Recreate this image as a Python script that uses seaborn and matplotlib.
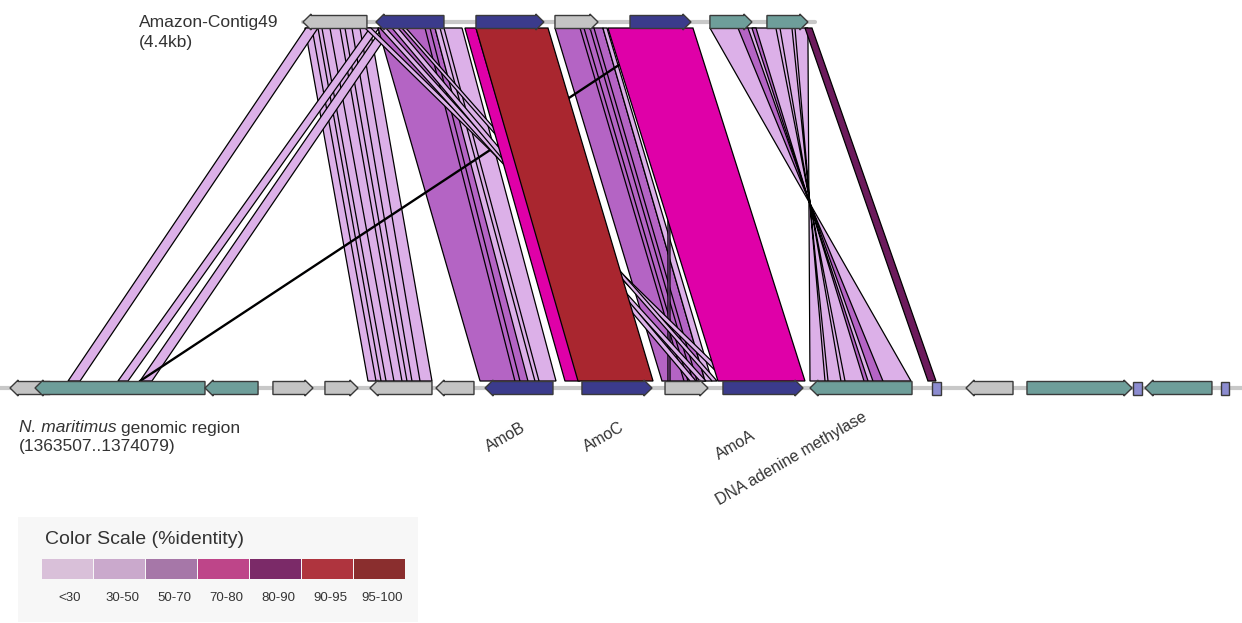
import matplotlib
matplotlib.use("Agg")
import matplotlib.pyplot as plt
from matplotlib.patches import Polygon, Rectangle
import seaborn as sns

# identity classes (legend) and colours
ID_LABELS = ['<30', '30-50', '50-70', '70-80', '80-90', '90-95', '95-100']
LEGEND_HEX = ['#d9c0d9', '#caa9cc', '#a677a8', '#be4589', '#7b2a68', '#af343e', '#8a2e2e']
LINK_HEX = ['#dcb0e8', '#c890d8', '#b464c4', '#df00a8', '#6c1b5c', '#a9262f', '#8b2c2c']

GENE_COLORS = {'other': '#c4c4c4', 'amo': '#3b3b8c', 'hyp': '#6e9e9a', 'rna': '#8c8cd0'}

# Amazon-Contig49 genes (bp, relative to contig start)
TOP_LEN = 4400
TOP_OFFSET = 2518   # alignment offset of contig against the genomic region
TOP_START = [0, 627, 1487, 2166, 2811, 3498, 3988]
TOP_END = [550, 1212, 2071, 2536, 3335, 3859, 4340]
TOP_STRAND = [-1, -1, 1, 1, 1, 1, 1]
TOP_KIND = ['other', 'amo', 'amo', 'other', 'amo', 'hyp', 'hyp']

# N. maritimus region genes (bp, relative to 1363507)
BOT_LEN = 10572
BOT_START = [0, 215, 1676, 2260, 2707, 3094, 3661, 4083, 4916, 5630, 6128, 6876,
             7925, 8217, 8741, 9652, 9755, 10409]
BOT_END = [344, 1676, 2132, 2604, 2991, 3627, 3988, 4667, 5518, 5999, 6816, 7753,
           8002, 8621, 9644, 9730, 10331, 10477]
BOT_STRAND = [-1, -1, -1, 1, 1, -1, -1, -1, 1, 1, 1, -1, 0, -1, 1, 0, -1, 0]
BOT_KIND = ['other', 'hyp', 'hyp', 'other', 'other', 'other', 'other', 'amo', 'amo',
            'other', 'amo', 'hyp', 'rna', 'other', 'hyp', 'rna', 'hyp', 'rna']

# tblastx hits: top start/end, bottom start/end (reversed when inverted), identity class
LINK_TOP_A = [17, 77, 163, 318, 421,          # block to grey genes
              26, 576, 679,                   # hits to the far-left genes
              645, 1135, 1049, 1178,          # AmoB-region block
              2166, 2381, 2467, 2578, 3137,   # block left of AmoA
              3189,                           # long single hit
              533, 662, 765, 851,             # crossing hits
              1392, 1487, 2621,               # amo blocks
              3498, 3739, 3859, 4065, 4203,   # inverted block
              4315]
LINK_TOP_B = [576, 129, 232, 361, 490,
              129, 653, 765,
              1135, 1367, 1092, 1212,
              2578, 2415, 2501, 2613, 3154,
              3206,
              584, 713, 817, 885,
              1487, 2106, 3352,
              4340, 3825, 3894, 4100, 4229,
              4375]
LINK_BOT_A = [3077, 3146, 3232, 3369, 3455,
              499, 928, 1117,
              4040, 4452, 4340, 4512,
              5604, 5793, 5870, 5974, 5655,
              1109,
              6154, 5931, 5845, 6034,
              4770, 4882, 6085,
              7744, 7503, 7375, 7177, 7031,
              7890]
LINK_BOT_B = [3627, 3189, 3300, 3412, 3524,
              602, 1014, 1220,
              4469, 4693, 4383, 4547,
              5974, 5827, 5905, 6034, 5673,
              1126,
              6206, 5982, 5896, 6077,
              4899, 5527, 6833,
              6876, 7417, 7340, 7142, 7005,
              7959]
LINK_CLASS = [0, 0, 0, 0, 0,
              0, 0, 0,
              2, 0, 2, 0,
              2, 2, 2, 0, 2,
              0,
              0, 0, 0, 0,
              3, 5, 3,
              0, 2, 2, 0, 0,
              4]

GENE_LABELS = ['AmoB', 'AmoC', 'AmoA', 'DNA adenine methylase']
GENE_LABEL_POS = [(527, 430), (625, 430), (757, 438), (868, 420)]

sns.set_theme(style='white')
plt.rcParams['font.family'] = ['Liberation Sans', 'DejaVu Sans']

W, H = 1242, 623
fig = plt.figure(figsize=(W / 100, H / 100), dpi=100)
ax = fig.add_axes([0, 0, 1, 1])
px = 1230 / BOT_LEN
ax.set_xlim(-10 / px, (W - 10) / px)
ax.set_ylim(H, 0)
ax.axis('off')

Y_TOP, Y_BOT = 22, 388
Y_LT, Y_LB = 28, 381

link_pal = sns.color_palette(LINK_HEX)
for ta, tb, ba, bb, c in zip(LINK_TOP_A, LINK_TOP_B, LINK_BOT_A, LINK_BOT_B, LINK_CLASS):
    poly = Polygon([(ta + TOP_OFFSET, Y_LT), (tb + TOP_OFFSET, Y_LT), (bb, Y_LB), (ba, Y_LB)],
                   closed=True, facecolor=link_pal[c], edgecolor='black', lw=0.9, zorder=2)
    ax.add_patch(poly)

# backbones
ax.plot([TOP_OFFSET, TOP_OFFSET + TOP_LEN], [Y_TOP, Y_TOP], color='#c8c8c8', lw=3, zorder=1)
ax.plot([-10 / px, (W - 10) / px], [Y_BOT, Y_BOT], color='#c8c8c8', lw=3, zorder=1)


def draw_gene(s, e, strand, kind, y):
    h, hh = 6.5, 8
    hl = min(70, (e - s) * 0.45)
    if strand == 1:
        pts = [(s, y - h), (e - hl, y - h), (e - hl, y - hh), (e, y), (e - hl, y + hh),
               (e - hl, y + h), (s, y + h)]
    elif strand == -1:
        pts = [(e, y - h), (s + hl, y - h), (s + hl, y - hh), (s, y), (s + hl, y + hh),
               (s + hl, y + h), (e, y + h)]
    else:
        pts = [(s, y - h), (e, y - h), (e, y + h), (s, y + h)]
    ax.add_patch(Polygon(pts, closed=True, facecolor=GENE_COLORS[kind],
                         edgecolor='#3a3a3a', lw=1, zorder=3))


for s, e, st, k in zip(TOP_START, TOP_END, TOP_STRAND, TOP_KIND):
    draw_gene(s + TOP_OFFSET, e + TOP_OFFSET, st, k, Y_TOP)
for s, e, st, k in zip(BOT_START, BOT_END, BOT_STRAND, BOT_KIND):
    draw_gene(s, e, st, k, Y_BOT)

# text and legend in pixel coordinates
pax = fig.add_axes([0, 0, 1, 1], facecolor='none')
pax.set_xlim(0, W)
pax.set_ylim(H, 0)
pax.axis('off')

tc = '#333333'
pax.text(139, 23, 'Amazon-Contig49', fontsize=12.5, color=tc, va='center')
pax.text(139, 43, '(4.4kb)', fontsize=12.5, color=tc, va='center')
t = pax.text(19, 428, 'N. maritimus', fontsize=12.5, color=tc, va='center', style='italic')
fig.canvas.draw()
bb = t.get_window_extent()
pax.text(19 + bb.width + 4, 428, 'genomic region', fontsize=12.5, color=tc, va='center')
pax.text(19, 447, '(1363507..1374079)', fontsize=12.5, color=tc, va='center')

for lab, (x, y) in zip(GENE_LABELS, GENE_LABEL_POS):
    pax.text(x, y, lab, fontsize=11.5, color=tc, rotation=30, rotation_mode='anchor',
             ha='right', va='baseline')

pax.add_patch(Rectangle((18, 517), 400, 105, facecolor='#f7f7f7', edgecolor='none', zorder=0))
pax.text(45, 540, 'Color Scale (%identity)', fontsize=14, color=tc, va='center')
sw = 52
for i, (lab, col) in enumerate(zip(ID_LABELS, LEGEND_HEX)):
    x0 = 42 + i * sw
    pax.add_patch(Rectangle((x0, 559), sw - 1.5, 20, facecolor=col, edgecolor='none'))
    pax.text(x0 + sw / 2 + 2, 598, lab, fontsize=9.5, color=tc, ha='center', va='center')

fig.savefig('out.png', dpi=100)
